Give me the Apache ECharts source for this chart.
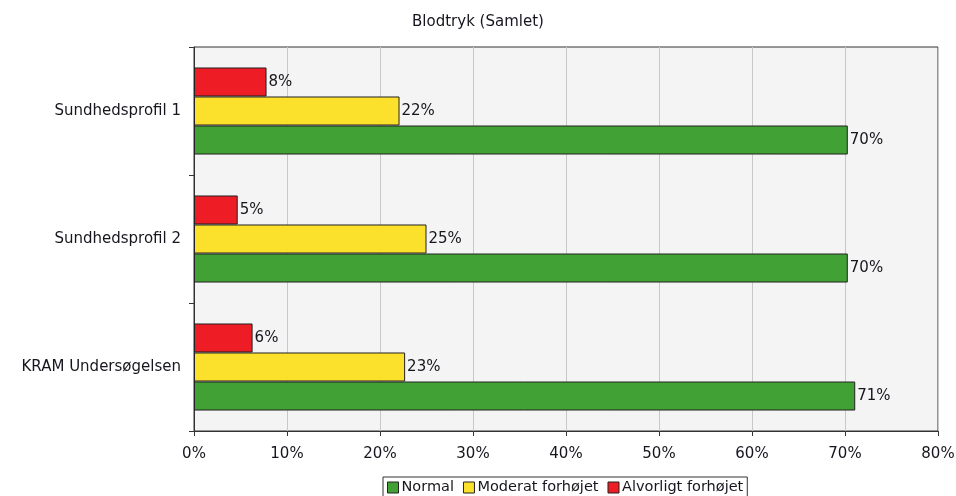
<!DOCTYPE html>
<html><head><meta charset="utf-8">
<script src="https://cdn.jsdelivr.net/npm/echarts@6/dist/echarts.min.js"></script>
<style>html,body{margin:0;padding:0;background:#fff}#c{width:956px;height:496px}</style>
</head><body><div id="c"></div>
<script>
const categories = ['Sundhedsprofil 1', 'Sundhedsprofil 2', 'KRAM Undersøgelsen'];
const seriesNames = ['Normal', 'Moderat forhøjet', 'Alvorligt forhøjet'];
const normal = [70.3, 70.3, 71.1];
const moderat = [22.1, 25.0, 22.7];
const alvorligt = [7.8, 4.7, 6.3];
const xTicks = [0, 10, 20, 30, 40, 50, 60, 70, 80];
const colors = ['#42a135', '#fbe02c', '#ee1c25'];

const chart = echarts.init(document.getElementById('c'));
const font = 'DejaVu Sans, sans-serif';
const txt = '#16161e';
const mk = (name, data, color) => ({
  name, type: 'bar', data, barGap: '0%', barCategoryGap: '32%',
  itemStyle: { color, borderColor: '#222', borderWidth: 1 },
  label: { show: true, position: 'right', distance: 2, color: txt, fontSize: 15, fontFamily: font,
    formatter: p => Math.round(p.value) + '%' }
});
chart.setOption({
  animation: false,
  title: { text: 'Blodtryk (Samlet)', left: 'center', top: 10,
    textStyle: { fontSize: 15, fontWeight: 'normal', color: txt, fontFamily: font } },
  legend: { bottom: -3, left: 383, itemWidth: 11, itemHeight: 11, itemGap: 9,
    borderColor: '#333', borderWidth: 1, padding: [3, 4, 4, 4], icon: 'rect',
    textStyle: { fontSize: 14.5, color: txt, fontFamily: font, padding: [0, 0, 0, -2] },
    itemStyle: { borderColor: '#222', borderWidth: 1 },
    data: seriesNames },
  grid: { left: 194, right: 18, top: 47, bottom: 65, show: true, backgroundColor: '#f4f4f4',
    borderColor: '#333', borderWidth: 1, outerBoundsMode: 'none', containLabel: false },
  xAxis: { type: 'value', min: xTicks[0], max: xTicks[xTicks.length - 1], interval: 10,
    axisLine: { show: true, lineStyle: { color: '#333' } },
    axisTick: { show: true, length: 5, lineStyle: { color: '#333' } },
    axisLabel: { formatter: v => v + '%', color: txt, fontSize: 15, fontFamily: font, margin: 16 },
    splitLine: { show: true, lineStyle: { color: '#c8c8c8' } } },
  yAxis: { type: 'category', data: categories, inverse: true,
    axisLine: { show: true, lineStyle: { color: '#333' } },
    axisTick: { show: true, length: 5, lineStyle: { color: '#333' } },
    axisLabel: { color: txt, fontSize: 15, fontFamily: font, margin: 13 } },
  series: [mk(seriesNames[2], alvorligt, colors[2]), mk(seriesNames[1], moderat, colors[1]), mk(seriesNames[0], normal, colors[0])]
});
</script></body></html>
